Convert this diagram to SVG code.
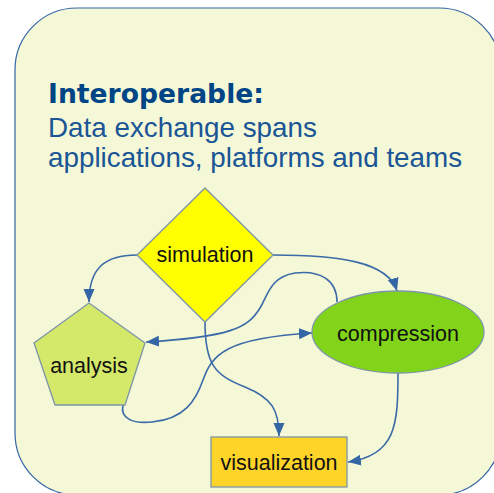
<svg xmlns="http://www.w3.org/2000/svg" width="494" height="493" viewBox="0 0 494 493">
<style>
.bg{fill:#f5f8d6;stroke:#3465a4;stroke-width:1.2}
.node{stroke:#7d95a8;stroke-width:1.3}
.lbl{font-family:"Liberation Sans",Arial,sans-serif;font-size:21.5px;fill:#111;text-anchor:middle}
.title{font-family:"DejaVu Sans",sans-serif;font-weight:bold;font-size:26.6px;fill:#004586}
.body{font-family:"Liberation Sans",Arial,sans-serif;font-size:27.8px;fill:#1a5596}
.conn path{fill:none;stroke:#3b6aa8;stroke-width:1.6}
</style>
<defs>
<marker id="arr" markerUnits="userSpaceOnUse" markerWidth="14" markerHeight="14" viewBox="0 0 14 14" refX="13" refY="7" orient="auto">
<path d="M0,1.5 L13,7 L0,12.5 Z" fill="#3465a4"/>
</marker>
</defs>
<rect class="bg" x="15" y="8" width="486" height="487" rx="62" ry="62"/>
<text class="title" x="48" y="103">Interoperable:</text>
<text class="body" x="48" y="137">Data exchange spans</text>
<text class="body" x="48" y="167">applications, platforms and teams</text>
<g class="conn">
<path d="M137,255 C105,255 89,268 89,302" marker-end="url(#arr)"/>
<path d="M273,255 C340,255 388,262 397,291" marker-end="url(#arr)"/>
<path d="M337,302 C337,280 320,270 295,273 C270,277 268,295 260,308 C248,328 230,337 146,342" marker-end="url(#arr)"/>
<path d="M123,405 C120,418 132,424 152,422 C185,419 196,400 203,380 C212,355 225,338 312,333" marker-end="url(#arr)"/>
<path d="M205,322 C205,365 215,375 245,387 C272,398 279,410 279,436" marker-end="url(#arr)"/>
<path d="M398,373 C398,425 396,455 348,462" marker-end="url(#arr)"/>
</g>
<g id="simulation">
<polygon class="node" points="205,188 273,255 205,322 137,255" fill="#ffff00"/>
<text class="lbl" x="205" y="262">simulation</text>
</g>
<g id="analysis">
<polygon class="node" points="89,303 145,343 125,405 55,405 34,343" fill="#d4e86a"/>
<text class="lbl" x="89" y="373">analysis</text>
</g>
<g id="compression">
<ellipse class="node" cx="398" cy="332" rx="86" ry="41" fill="#81d41a"/>
<text class="lbl" x="398" y="341">compression</text>
</g>
<g id="visualization">
<rect class="node" x="211" y="437" width="136" height="50" fill="#ffd428"/>
<text class="lbl" x="279" y="470">visualization</text>
</g>
</svg>
